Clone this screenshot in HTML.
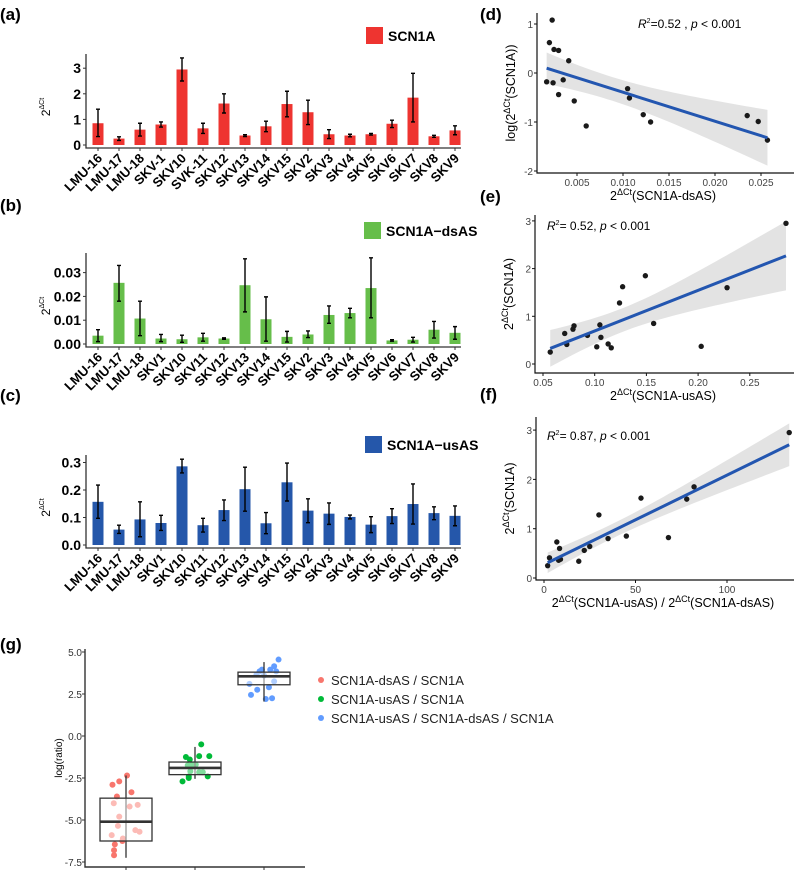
<!DOCTYPE html>
<html><head><meta charset="utf-8"><style>
body{margin:0;background:#fff;}
svg{display:block;font-family:"Liberation Sans",Arial,sans-serif;}
.lab{font-weight:bold;font-size:17px;}
</style></head><body>
<svg id="s" width="800" height="870" viewBox="0 0 800 870">
<text class="lab" x="0" y="20">(a)</text>
<text class="lab" x="0" y="211">(b)</text>
<text class="lab" x="0" y="401">(c)</text>
<text class="lab" x="480" y="20">(d)</text>
<text class="lab" x="480" y="202">(e)</text>
<text class="lab" x="480" y="400">(f)</text>
<text class="lab" x="0" y="650">(g)</text>
</svg>
<script>
const NS="http://www.w3.org/2000/svg";
const svg=document.getElementById('s');
function mk(tag,attrs,parent,txt){const e=document.createElementNS(NS,tag);for(const k in attrs)e.setAttribute(k,attrs[k]);if(txt!==undefined)e.textContent=txt;(parent||svg).appendChild(e);return e;}

// ---- bar data ----
const catsA=["LMU-16","LMU-17","LMU-18","SKV-1","SKV10","SVK-11","SKV12","SKV13","SKV14","SKV15","SKV2","SKV3","SKV4","SKV5","SKV6","SKV7","SKV8","SKV9"];
const catsBC=["LMU-16","LMU-17","LMU-18","SKV1","SKV10","SKV11","SKV12","SKV13","SKV14","SKV15","SKV2","SKV3","SKV4","SKV5","SKV6","SKV7","SKV8","SKV9"];
const valsA=[0.85,0.25,0.6,0.8,2.95,0.65,1.62,0.37,0.73,1.6,1.28,0.42,0.37,0.42,0.83,1.85,0.34,0.57];
const loA=[0.33,0.18,0.35,0.7,2.5,0.45,1.25,0.33,0.52,1.1,0.8,0.25,0.32,0.39,0.68,0.9,0.3,0.4];
const hiA=[1.4,0.32,0.85,0.9,3.4,0.85,2.0,0.4,0.93,2.1,1.75,0.6,0.42,0.45,0.97,2.8,0.38,0.75];
const valsB=[0.0035,0.0257,0.0107,0.0023,0.002,0.0028,0.0023,0.0247,0.0104,0.003,0.004,0.0122,0.013,0.0235,0.0015,0.0018,0.006,0.0047];
const loB=[0.001,0.018,0.0035,0.001,0.0007,0.0012,0.002,0.0135,0.0012,0.0008,0.0027,0.0087,0.011,0.011,0.0012,0.0008,0.0025,0.002];
const hiB=[0.006,0.033,0.018,0.004,0.0037,0.0045,0.0026,0.0358,0.0198,0.0053,0.0055,0.016,0.015,0.0362,0.0018,0.0028,0.0095,0.0073];
const valsC=[0.157,0.056,0.093,0.08,0.286,0.072,0.127,0.203,0.079,0.228,0.125,0.114,0.102,0.074,0.105,0.149,0.116,0.106];
const loC=[0.097,0.042,0.03,0.053,0.262,0.047,0.089,0.123,0.041,0.16,0.081,0.075,0.095,0.045,0.078,0.076,0.092,0.07];
const hiC=[0.218,0.072,0.157,0.108,0.312,0.097,0.164,0.283,0.118,0.298,0.168,0.153,0.109,0.103,0.132,0.222,0.139,0.142];
const ticksA=[0,1,2,3], tickLabA=["0","1","2","3"];
const ticksB=[0,0.01,0.02,0.03], tickLabB=["0.00","0.01","0.02","0.03"];
const ticksC=[0,0.1,0.2,0.3], tickLabC=["0.0","0.1","0.2","0.3"];

function barChart(o){
  const g=mk('g',{});
  
  
  const y=v=>o.y0-(v-0)*o.scale;
  const x=i=>98+i*21;
  o.vals.forEach((v,i)=>{
    const r=mk('rect',{x:x(i)-5.5,y:y(v),width:11,height:o.y0-y(v),fill:o.color},g);
    
    
    const e=mk('path',{d:`M${x(i)},${y(o.hi[i])}V${y(o.lo[i])}M${x(i)-2},${y(o.hi[i])}h4M${x(i)-2},${y(o.lo[i])}h4`,stroke:'#000','stroke-width':1.4,fill:'none'},g);
    
    
    const t=mk('text',{x:x(i)+5,y:o.base+11,'text-anchor':'end','font-size':13,'font-weight':'bold',transform:`rotate(-45 ${x(i)+5} ${o.base+11})`},g,o.cats[i]);
    
    
    mk('line',{x1:x(i),x2:x(i),y1:o.base,y2:o.base+3,stroke:'#333'},g);
  });
  mk('path',{d:`M86,${o.top}V${o.base}H461`,stroke:'#333','stroke-width':1.3,fill:'none'},g);
  o.ticks.forEach((t,i)=>{
    mk('line',{x1:83,x2:86,y1:y(t),y2:y(t),stroke:'#333'},g);
    const tl=mk('text',{x:81,y:y(t)+5,'text-anchor':'end','font-size':14,'font-weight':'bold'},g,o.tl[i]);
    
    
  });
  const yt=mk('text',{transform:`translate(50 ${(o.top+o.base)/2+6}) rotate(-90)`,'font-size':12,'text-anchor':'middle'},g);
  
  
  yt.innerHTML='2<tspan dy="-6" font-size="7">ΔCt</tspan>';
  const lr=mk('rect',{x:o.lx,y:o.ly,width:17,height:17,fill:o.color},g);
  
  
  const lt=mk('text',{x:o.lx+22,y:o.ly+14,'font-size':14,'font-weight':'bold'},g,o.legend);
  
  
}
barChart({name:'chart-a',cats:catsA,vals:valsA,lo:loA,hi:hiA,y0:145,scale:25.6,top:54,base:148,color:'#EE3430',ticks:ticksA,tl:tickLabA,lx:366,ly:27,legend:'SCN1A'});
barChart({name:'chart-b',cats:catsBC,vals:valsB,lo:loB,hi:hiB,y0:344,scale:2380,top:253,base:347,color:'#66BE4A',ticks:ticksB,tl:tickLabB,lx:364,ly:222,legend:'SCN1A\u2212dsAS'});
barChart({name:'chart-c',cats:catsBC,vals:valsC,lo:loC,hi:hiC,y0:545,scale:275,top:455,base:548,color:'#2557AA',ticks:ticksC,tl:tickLabC,lx:365,ly:436,legend:'SCN1A\u2212usAS'});

// ---- scatter data ----
const dX=[0.0017,0.002,0.0023,0.0024,0.0025,0.003,0.003,0.0035,0.0041,0.0047,0.006,0.0105,0.0107,0.0122,0.013,0.0235,0.0247,0.0257];
const dY=[-0.18,0.62,1.08,-0.2,0.48,0.46,-0.44,-0.14,0.25,-0.57,-1.08,-0.32,-0.51,-0.85,-1.0,-0.87,-0.99,-1.37];
const eX=[0.057,0.071,0.073,0.079,0.08,0.093,0.102,0.105,0.106,0.113,0.116,0.124,0.127,0.149,0.157,0.203,0.228,0.285];
const eY=[0.25,0.64,0.41,0.73,0.8,0.6,0.36,0.82,0.56,0.42,0.34,1.28,1.62,1.85,0.85,0.37,1.6,2.95];
const fX=[2,3,7,8,8.5,9,19,22,25,30,35,45,53,68,78,82,134];
const fY=[0.25,0.41,0.73,0.36,0.6,0.38,0.34,0.56,0.64,1.28,0.8,0.85,1.62,0.82,1.6,1.85,2.95];
const dXt=[0.005,0.01,0.015,0.02,0.025], dXl=["0.005","0.010","0.015","0.020","0.025"];
const dYt=[-2,-1,0,1], dYl=["-2","-1","0","1"];
const eXt=[0.05,0.1,0.15,0.2,0.25], eXl=["0.05","0.10","0.15","0.20","0.25"];
const eYt=[0,1,2,3], eYl=["0","1","2","3"];
const fXt=[0,50,100], fXl=["0","50","100"];
const fYt=[0,1,2,3], fYl=["0","1","2","3"];

function scatter(o){
  const g=mk('g',{});
  
  
  const sx=v=>o.ax+(v-o.xa)*o.xs, sy=v=>o.ay-(v-o.ya)*o.ys;
  const n=o.X.length, mx=o.X.reduce((a,b)=>a+b)/n, my=o.Y.reduce((a,b)=>a+b)/n;
  let sxx=0,sxy=0;o.X.forEach((x,i)=>{sxx+=(x-mx)**2;sxy+=(x-mx)*(o.Y[i]-my);});
  const b=sxy/sxx,a=my-b*mx;let sse=0;o.X.forEach((x,i)=>{sse+=(o.Y[i]-a-b*x)**2;});
  const s=Math.sqrt(sse/(n-2)),tq=2.12;
  const x0=Math.min(...o.X),x1=Math.max(...o.X);
  let up=[],dn=[];
  for(let k=0;k<=40;k++){const x=x0+(x1-x0)*k/40,f=a+b*x,h=tq*s*Math.sqrt(1/n+(x-mx)**2/sxx);up.push(sx(x)+','+sy(f+h));dn.unshift(sx(x)+','+sy(f-h));}
  const band=mk('polygon',{points:up.concat(dn).join(' '),fill:'#d9d9d9','fill-opacity':0.75},g);
  
  
  o.X.forEach((x,i)=>{
    const c=mk('circle',{cx:sx(x),cy:sy(o.Y[i]),r:2.7,fill:'#1a1a1a'},g);
    
    
  });
  const ln=mk('line',{x1:sx(x0),y1:sy(a+b*x0),x2:sx(x1),y2:sy(a+b*x1),stroke:'#2356B0','stroke-width':3},g);
  
  
  mk('path',{d:`M${o.L},${o.T}V${o.B}H${o.R}`,stroke:'#111','stroke-width':1.2,fill:'none'},g);
  o.xt.forEach((t,i)=>{mk('line',{x1:sx(t),x2:sx(t),y1:o.B,y2:o.B+3,stroke:'#111'},g);
    const tl=mk('text',{x:sx(t),y:o.B+13,'text-anchor':'middle','font-size':10,fill:'#444'},g,o.xl[i]);
    
    });
  o.yt.forEach((t,i)=>{mk('line',{x1:o.L-3,x2:o.L,y1:sy(t),y2:sy(t),stroke:'#111'},g);
    const tl=mk('text',{x:o.L-4,y:sy(t)+4,'text-anchor':'end','font-size':10,fill:'#444'},g,o.yl[i]);
    
    });
  const st=mk('text',{x:o.sx,y:o.sy,'font-size':12},g);
  
  
  st.innerHTML='<tspan font-style="italic">R</tspan><tspan dy="-5" font-size="7">2</tspan><tspan dy="5">'+o.rtxt+'</tspan>';
  const xt=mk('text',{x:663,y:o.B+27,'text-anchor':'middle','font-size':12.5},g);
  
  
  xt.innerHTML=o.xtitle;
  const yt=mk('text',{transform:`translate(${o.L-22} ${(o.T+o.B)/2}) rotate(-90)`,'text-anchor':'middle','font-size':12.5},g);
  
  
  yt.innerHTML=o.ytitle;
}
const sup=t=>`<tspan dy="-5" font-size="9">${t}</tspan>`;
scatter({name:'chart-d',X:dX,Y:dY,ax:531,xa:0,xs:9200,ay:73,ya:0,ys:49,L:537,T:13,B:173,R:794,xt:dXt,xl:dXl,yt:dYt,yl:dYl,sx:638,sy:28,
 rtxt:'=0.52 , <tspan font-style="italic">p</tspan> &lt; 0.001',xtitle:'2'+sup('ΔCt')+'<tspan dy="5">(SCN1A-dsAS)</tspan>',ytitle:'log(2'+sup('ΔCt')+'<tspan dy="5">(SCN1A))</tspan>'});
scatter({name:'chart-e',X:eX,Y:eY,ax:543,xa:0.05,xs:1034,ay:364,ya:0,ys:47.7,L:535,T:215,B:373,R:794,xt:eXt,xl:eXl,yt:eYt,yl:eYl,sx:547,sy:230,
 rtxt:'= 0.52, <tspan font-style="italic">p</tspan> &lt; 0.001',xtitle:'2'+sup('ΔCt')+'<tspan dy="5">(SCN1A-usAS)</tspan>',ytitle:'2'+sup('ΔCt')+'<tspan dy="5">(SCN1A)</tspan>'});
scatter({name:'chart-f',X:fX,Y:fY,ax:544,xa:0,xs:1.83,ay:578,ya:0,ys:49.3,L:536,T:417,B:580,R:794,xt:fXt,xl:fXl,yt:fYt,yl:fYl,sx:547,sy:440,
 rtxt:'= 0.87, <tspan font-style="italic">p</tspan> &lt; 0.001',xtitle:'2'+sup('ΔCt')+'<tspan dy="5">(SCN1A-usAS) / 2</tspan>'+sup('ΔCt')+'<tspan dy="5">(SCN1A-dsAS)</tspan>',ytitle:'2'+sup('ΔCt')+'<tspan dy="5">(SCN1A)</tspan>'});

// ---- box plot data ----
const groups=["SCN1A-dsAS / SCN1A","SCN1A-usAS / SCN1A","SCN1A-usAS / SCN1A-dsAS / SCN1A"];
const colors=["#F8766D","#00BA38","#619CFF"];
const q1=[-6.25,-2.3,3.05], med=[-5.1,-1.9,3.55], q3=[-3.7,-1.55,3.8], wlo=[-7.25,-2.55,2.05], whi=[-2.35,-0.65,4.4];
const ptsG=[
 [-2.9,-2.7,-2.35,-3.6,-3.35,-4.0,-4.2,-4.1,-4.8,-5.35,-5.9,-5.6,-5.7,-6.1,-6.25,-6.45,-6.8,-7.1],
 [-1.25,-1.4,-0.5,-1.2,-1.2,-1.75,-1.7,-1.7,-2.1,-2.15,-2.15,-2.7,-2.5,-2.4,-2.4],
 [4.55,4.15,3.95,3.95,3.85,3.85,3.6,3.65,3.1,3.25,2.9,2.75,2.45,2.2,2.25]];
const jit=[[-0.52,-0.26,0.04,-0.35,0.21,-0.47,0.14,0.45,-0.26,-0.31,-0.55,0.36,0.52,-0.12,-0.14,-0.43,-0.46,-0.46],
 [-0.35,-0.2,0.24,0.16,0.55,-0.28,-0.12,0.03,-0.18,0.16,0.3,-0.48,-0.24,-0.24,0.49],
 [0.56,0.39,0.24,-0.08,-0.17,0.47,0,-0.29,-0.56,0.39,0.19,-0.26,-0.5,0.07,0.31]];
const gTicks=[5,2.5,0,-2.5,-5,-7.5], gTickL=["5.0","2.5","0.0","-2.5","-5.0","-7.5"];
(function(){
  const g=mk('g',{});
  
  
  const sy=v=>736-v*16.8, cx=i=>126+i*69, hw=26;
  groups.forEach((nm,i)=>{
    ptsG[i].forEach((v,k)=>{const c=mk('circle',{cx:cx(i)+jit[i][k]*hw*1.0,cy:sy(v),r:3,fill:colors[i]},g);
      
      });
    const w=mk('line',{x1:cx(i),x2:cx(i),y1:sy(whi[i]),y2:sy(wlo[i]),stroke:'#333','stroke-width':1.3},g);
    
    
    const b=mk('rect',{x:cx(i)-hw,y:sy(q3[i]),width:2*hw,height:sy(q1[i])-sy(q3[i]),fill:'#fff','fill-opacity':0.5,stroke:'#333','stroke-width':1.3},g);
    
    
    const m=mk('line',{x1:cx(i)-hw,x2:cx(i)+hw,y1:sy(med[i]),y2:sy(med[i]),stroke:'#333','stroke-width':2.6},g);
    
    
    mk('line',{x1:cx(i),x2:cx(i),y1:867,y2:870,stroke:'#333'},g);
    const ld=mk('circle',{cx:321,cy:680+i*19,r:3,fill:colors[i]},g);
    
    
    const lt=mk('text',{x:331,y:685+i*19,'font-size':13,fill:'#222'},g,nm);
    
    
  });
  mk('path',{d:'M85,649V867H305',stroke:'#333','stroke-width':1.4,fill:'none'},g);
  gTicks.forEach((t,i)=>{mk('line',{x1:82,x2:85,y1:sy(t),y2:sy(t),stroke:'#333'},g);
    const tl=mk('text',{x:82,y:sy(t)+4,'text-anchor':'end','font-size':10,fill:'#333'},g,gTickL[i]);
    
    });
  const yt=mk('text',{transform:'translate(62 758) rotate(-90)','text-anchor':'middle','font-size':10},g,'log(ratio)');
  
  
})();
</script>
</body></html>
